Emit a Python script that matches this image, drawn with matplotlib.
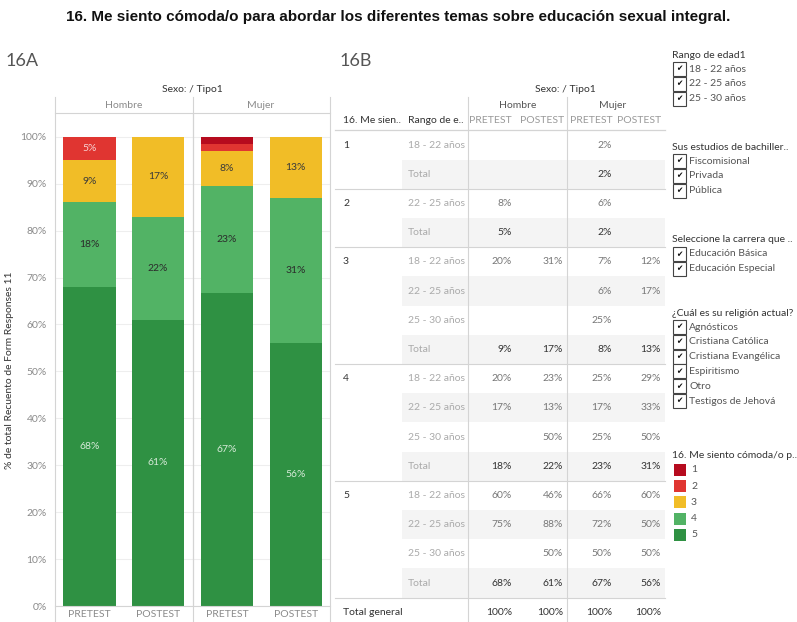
import matplotlib.pyplot as plt
from matplotlib.lines import Line2D
from matplotlib.patches import Rectangle

plt.rcParams['font.family'] = ['Lato', 'DejaVu Sans']

# --- datos ---
tipos = ['PRETEST', 'POSTEST', 'PRETEST', 'POSTEST']
sexos = ['Hombre', 'Mujer']
niveles = ['1', '2', '3', '4', '5']
colores = ['#b60b1e', '#e03531', '#f1bd27', '#52b365', '#2f9143']
nivel1 = [0, 0, 1.5, 0]
nivel2 = [5, 0, 1.5, 0]
nivel3 = [9, 17, 7.5, 13]
nivel4 = [18, 22, 22.8, 31]
nivel5 = [68, 61, 66.7, 56]

tabla_grupo = ['1', '', '2', '', '3', '', '', '', '4', '', '', '', '5', '', '', '']
tabla_rango = ['18 - 22 años', 'Total', '22 - 25 años', 'Total',
               '18 - 22 años', '22 - 25 años', '25 - 30 años', 'Total',
               '18 - 22 años', '22 - 25 años', '25 - 30 años', 'Total',
               '18 - 22 años', '22 - 25 años', '25 - 30 años', 'Total']
hombre_pre = [None, None, 8, 5, 20, None, None, 9, 20, 17, None, 18, 60, 75, None, 68]
hombre_post = [None, None, None, None, 31, None, None, 17, 23, 13, 50, 22, 46, 88, 50, 61]
mujer_pre = [2, 2, 6, 2, 7, 6, 25, 8, 25, 17, 25, 23, 66, 72, 50, 67]
mujer_post = [None, None, None, None, 12, 17, None, 13, 29, 33, 50, 31, 60, 50, 50, 56]
total_general = [100, 100, 100, 100]

filtros = [
    ('Rango de edad1', ['18 - 22 años', '22 - 25 años', '25 - 30 años'], 55),
    ('Sus estudios de bachiller..', ['Fiscomisional', 'Privada', 'Pública'], 147),
    ('Seleccione la carrera que ..', ['Educación Básica', 'Educación Especial'], 240),
    ('¿Cuál es su religión actual?', ['Agnósticos', 'Cristiana Católica', 'Cristiana Evangélica',
                                      'Espiritismo', 'Otro', 'Testigos de Jehová'], 313),
]

W, H = 797, 622
fig = plt.figure(figsize=(W / 100, H / 100), dpi=100)


def fx(x):
    return x / W


def fy(y):
    return 1 - y / H


def txt(x, y, s, **kw):
    kw.setdefault('va', 'center')
    kw.setdefault('fontsize', 7.5)
    fig.text(fx(x), fy(y), s, **kw)


def linea(x0, y0, x1, y1, color='#d4d4d4', lw=0.8):
    fig.add_artist(Line2D([fx(x0), fx(x1)], [fy(y0), fy(y1)], color=color, lw=lw))


def caja(x, y, w, h, **kw):
    fig.add_artist(Rectangle((fx(x), fy(y + h)), w / W, h / H,
                             transform=fig.transFigure, **kw))


fig.text(0.5, fy(17), '16. Me siento cómoda/o para abordar los diferentes temas sobre educación sexual integral.',
         ha='center', va='center', fontsize=11, fontweight='bold', family='Liberation Sans', color='#111111')

# --- 16A: barras apiladas ---
txt(6, 61, '16A', fontsize=13, color='#555555')
ax = fig.add_axes([fx(55), fy(606), 275 / W, (606 - 113.3) / H])
xs = range(len(tipos))
base = [0, 0, 0, 0]
series = [nivel5, nivel4, nivel3, nivel2, nivel1]
cols = colores[::-1]
color_txt = ['#d6ead8', '#2b2b2b', '#3a3a3a', '#f7d3d3', '#ffffff']
for vals, c, tc in zip(series, cols, color_txt):
    ax.bar(xs, vals, bottom=base, width=0.76, color=c, zorder=2)
    for i, v in enumerate(vals):
        if v >= 3:
            ax.text(i, base[i] + v / 2, f'{v:.0f}%', ha='center', va='center',
                    fontsize=7.5, color=tc, zorder=3)
    base = [b + v for b, v in zip(base, vals)]

ax.set_xlim(-0.5, 3.5)
ax.set_ylim(0, 105)
ax.set_yticks(range(0, 101, 10))
ax.set_yticklabels([f'{t}%' for t in range(0, 101, 10)], fontsize=7.5, color='#8a8a8a')
ax.set_xticks(list(xs))
ax.set_xticklabels(tipos, fontsize=7.5, color='#8a8a8a')
ax.tick_params(length=0, pad=3)
ax.tick_params(axis='y', pad=6)
ax.grid(axis='y', color='#eeeeee', lw=0.8, zorder=0)
for s in ax.spines.values():
    s.set_visible(False)
ax.axvline(1.5, color='#d4d4d4', lw=0.8)

linea(55, 97, 55, 622)
linea(192.5, 97, 192.5, 622)
linea(330, 97, 330, 622)
linea(55, 113.3, 330, 113.3)
linea(55, 606, 330, 606)
txt(192, 89, 'Sexo: / Tipo1', ha='center', color='#333333')
txt(123.5, 105.5, sexos[0], ha='center', color='#8a8a8a')
txt(261, 105.5, sexos[1], ha='center', color='#8a8a8a')
txt(10, 370, '% de total Recuento de Form Responses 11', ha='center', rotation=90,
    fontsize=7.5, color='#333333')

# --- 16B: tabla ---
txt(340, 61, '16B', fontsize=13, color='#555555')
txt(565, 89, 'Sexo: / Tipo1', ha='center', color='#333333')
txt(518, 105, sexos[0], ha='center', color='#555555')
txt(613, 105, sexos[1], ha='center', color='#555555')
txt(343, 121, '16. Me sien..', color='#333333')
txt(408, 121, 'Rango de e..', color='#333333')
centros = [490, 542, 591, 639]
derechas = [512, 563, 612, 661]
for cx, t in zip(centros, tipos):
    txt(cx, 121, t, ha='center', color='#999999')

fila0, paso = 145, 29.2
columnas = [hombre_pre, hombre_post, mujer_pre, mujer_post]
for i, rango in enumerate(tabla_rango):
    yc = fila0 + paso * i
    if tabla_rango[i] == 'Total' or tabla_rango[i] == '22 - 25 años' and i in (5, 9, 13):
        caja(402, yc - paso / 2, 263, paso, facecolor='#f4f4f4', edgecolor='none', zorder=0)
    if tabla_grupo[i]:
        txt(343, yc, tabla_grupo[i], color='#333333')
        linea(335, yc - paso / 2, 665, yc - paso / 2)
    txt(408, yc, rango, color='#aaaaaa')
    es_total = rango == 'Total'
    for col, xr in zip(columnas, derechas):
        v = col[i]
        if v is not None:
            txt(xr, yc, f'{v}%', ha='right', color='#333333' if es_total else '#777777')

yt = fila0 + paso * len(tabla_rango)
linea(335, yt - paso / 2, 665, yt - paso / 2)
linea(335, fila0 - paso / 2, 665, fila0 - paso / 2)
txt(343, yt, 'Total general', color='#333333')
for v, xr in zip(total_general, derechas):
    txt(xr, yt, f'{v}%', ha='right', color='#333333')
linea(468, 97, 468, 622)
linea(567, 97, 567, 622)

# --- filtros y leyenda ---
for titulo, items, y0 in filtros:
    txt(672, y0, titulo, color='#333333')
    for j, it in enumerate(items):
        yc = y0 + 14 + 14.8 * j
        caja(673, yc - 7, 13, 14, facecolor='white', edgecolor='#444444', lw=0.8)
        txt(679.5, yc, '✔', ha='center', fontsize=5.5, family='DejaVu Sans', color='#111111')
        txt(689, yc, it, color='#555555')

txt(672, 455, '16. Me siento cómoda/o p..', color='#333333')
for j, (n, c) in enumerate(zip(niveles, colores)):
    yc = 470 + 16.2 * j
    caja(674, yc - 6, 12, 12, facecolor=c, edgecolor='none')
    txt(691, yc, n, color='#555555')

fig.savefig('out.png', dpi=100)
